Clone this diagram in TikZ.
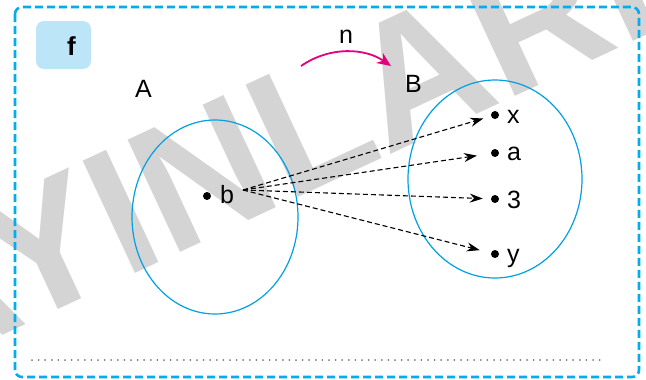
\documentclass[tikz,border=0pt]{standalone}
\usepackage{fontspec}
\setmainfont{Liberation Sans}
\usetikzlibrary{arrows.meta}
\definecolor{framecyan}{RGB}{0,174,239}
\definecolor{tagblue}{RGB}{189,229,248}
\definecolor{setblue}{RGB}{0,160,227}
\definecolor{mapmagenta}{RGB}{228,0,124}
\definecolor{markgray}{RGB}{212,212,212}
\definecolor{rulegray}{RGB}{120,120,120}
\begin{document}
\begin{tikzpicture}[x=1pt,y=-1pt,
  lbl/.style={font=\fontsize{25}{30}\selectfont, inner sep=0pt, anchor=base west},
  elem/.style={circle, fill=black, inner sep=0pt, minimum size=8pt},
  setline/.style={draw=setblue, line width=1.2pt},
  maparrow/.style={line width=1.1pt, dash pattern=on 5pt off 3pt,
    -{Stealth[length=13pt,width=9pt]}},
  fnarrow/.style={draw=mapmagenta, line width=1.8pt,
    -{Stealth[length=14pt,width=12pt,fill=mapmagenta]}}]
\useasboundingbox (0,0) rectangle (646,380);

% publisher mark in the background
\node[text=markgray, rotate=25, inner sep=0pt,
  font=\fontsize{180}{180}\selectfont\bfseries] (mark) at (217,167) {YAYINLARI};

% dashed frame
\draw[framecyan, line width=2.6pt, dash pattern=on 8pt off 4pt, rounded corners=7pt]
  (15,7) rectangle (639,377);

% tag
\fill[tagblue, rounded corners=8pt] (36,21) rectangle (91,69);
\node[font=\fontsize{26}{30}\selectfont\bfseries, inner sep=0pt, anchor=base west] (tag) at (67,55) {f};

% sets
\draw[setline] (215,217) ellipse [x radius=83pt, y radius=97pt];
\draw[setline] (495,179) ellipse [x radius=87pt, y radius=99pt];
\node[lbl] (setA) at (135,97) {A};
\node[lbl] (setB) at (405,92) {B};

% mapping name
\node[lbl] (fname) at (339,43) {n};
\coordinate (nstart) at (301,66);
\coordinate (nend) at (391,66);
\draw[fnarrow] (nstart) .. controls (330,46) and (365,48) .. (nend);

% elements
\node[elem] (pb) at (207,196) {};
\node[lbl] (lb) at (220,203) {b};
\node[elem] (px) at (495,115) {};
\node[lbl] (lx) at (507,123) {x};
\node[elem] (pa) at (495,153) {};
\node[lbl] (la) at (507,160) {a};
\node[elem] (p3) at (495,199) {};
\node[lbl] (l3) at (507,208) {3};
\node[elem] (py) at (495,254) {};
\node[lbl] (ly) at (507,262) {y};

% arrows from b
\coordinate (bsrc) at (243,190);
\draw[maparrow, shorten >=8pt] (bsrc) -- (px);
\draw[maparrow, shorten >=14pt] (bsrc) -- (pa);
\draw[maparrow, shorten >=8pt] (bsrc) -- (p3);
\draw[maparrow, shorten >=11.5pt] (bsrc) -- (py);

% answer line
\coordinate (ruleL) at (32,360);
\coordinate (ruleR) at (603,360);
\draw[rulegray, line width=2pt, dash pattern=on 0pt off 6.6pt, line cap=round] (ruleL) -- (ruleR);
\end{tikzpicture}
\end{document}
